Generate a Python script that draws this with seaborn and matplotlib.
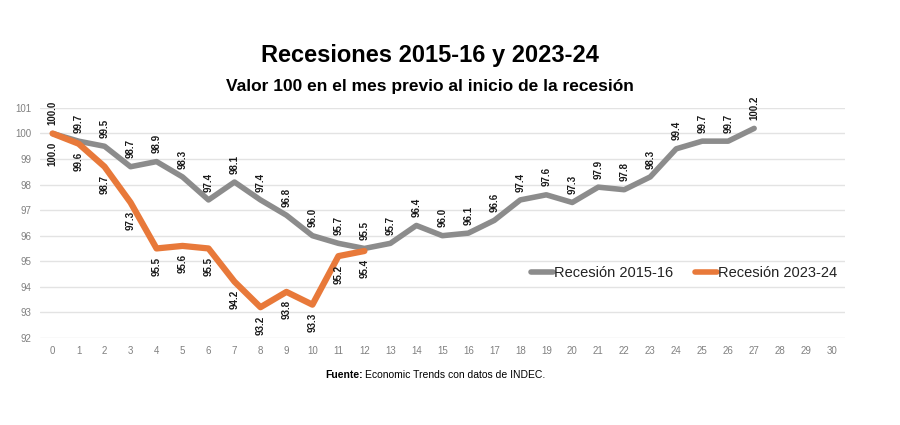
import matplotlib.pyplot as plt
import seaborn as sns
import pandas as pd

sns.set_theme(style="white")
plt.rcParams['font.family'] = ['Liberation Sans', 'DejaVu Sans']
plt.rcParams['text.color'] = 'black'

# Datos
meses_2015 = list(range(28))
valores_2015 = [100.0, 99.7, 99.5, 98.7, 98.9, 98.3, 97.4, 98.1, 97.4, 96.8, 96.0,
                95.7, 95.5, 95.7, 96.4, 96.0, 96.1, 96.6, 97.4, 97.6, 97.3, 97.9,
                97.8, 98.3, 99.4, 99.7, 99.7, 100.2]
meses_2023 = list(range(13))
valores_2023 = [100.0, 99.6, 98.7, 97.3, 95.5, 95.6, 95.5, 94.2, 93.2, 93.8, 93.3,
                95.2, 95.4]
series = ["Recesión 2015-16", "Recesión 2023-24"]
colores = ["#8c8c8c", "#e8793a"]

df = pd.concat([
    pd.DataFrame({"mes": meses_2015, "valor": valores_2015, "serie": series[0]}),
    pd.DataFrame({"mes": meses_2023, "valor": valores_2023, "serie": series[1]}),
])

fig = plt.figure(figsize=(9, 4.25), dpi=100)
ax = fig.add_axes([0.044, 0.205, 0.895, 0.541])

sns.lineplot(data=df, x="mes", y="valor", hue="serie", palette=colores,
             linewidth=4, ax=ax, legend=True)
ax.lines[1].set_linewidth(4.5)

# etiquetas de datos
for x, y in zip(meses_2015, valores_2015):
    ax.annotate(f"{y:.1f}", (x, y), xytext=(0, 6), textcoords="offset points",
                rotation=90, ha="center", va="bottom", fontsize=7,
                fontweight="bold", color="#1a1a1a")
for x, y in zip(meses_2023, valores_2023):
    ax.annotate(f"{y:.1f}", (x, y), xytext=(0, -6), textcoords="offset points",
                rotation=90, ha="center", va="top", fontsize=7,
                fontweight="bold", color="#1a1a1a")

ax.set_xlim(-0.5, 30.5)
ax.set_ylim(92, 101)
ax.set_xticks(range(31))
ax.set_yticks(range(92, 102))
ax.tick_params(axis="both", labelsize=7, labelcolor="#808080", length=0, pad=6)
ax.grid(axis="y", color="#e3e3e3", linewidth=1)
ax.set_axisbelow(True)
sns.despine(ax=ax, left=True, bottom=True)
ax.set_xlabel("")
ax.set_ylabel("")

leg = ax.legend(loc="center", bbox_to_anchor=(0.8, 0.28), ncol=2, frameon=False,
                fontsize=10.5, handlelength=1.5, handletextpad=0.05, columnspacing=1.5)
for h in leg.get_lines():
    h.set_linewidth(4)
for txt in leg.get_texts():
    txt.set_color("#222222")

fig.text(0.478, 0.87, "Recesiones 2015-16 y 2023-24", ha="center", va="center",
         fontsize=17, fontweight="bold")
fig.text(0.478, 0.797, "Valor 100 en el mes previo al inicio de la recesión",
         ha="center", va="center", fontsize=12.5, fontweight="bold")
fig.text(0.361, 0.118, "Fuente:", ha="left", va="center", fontsize=7.5,
         fontweight="bold")
fig.text(0.406, 0.118, "Economic Trends con datos de INDEC.", ha="left",
         va="center", fontsize=7.5)

fig.savefig("out.png", dpi=100)
